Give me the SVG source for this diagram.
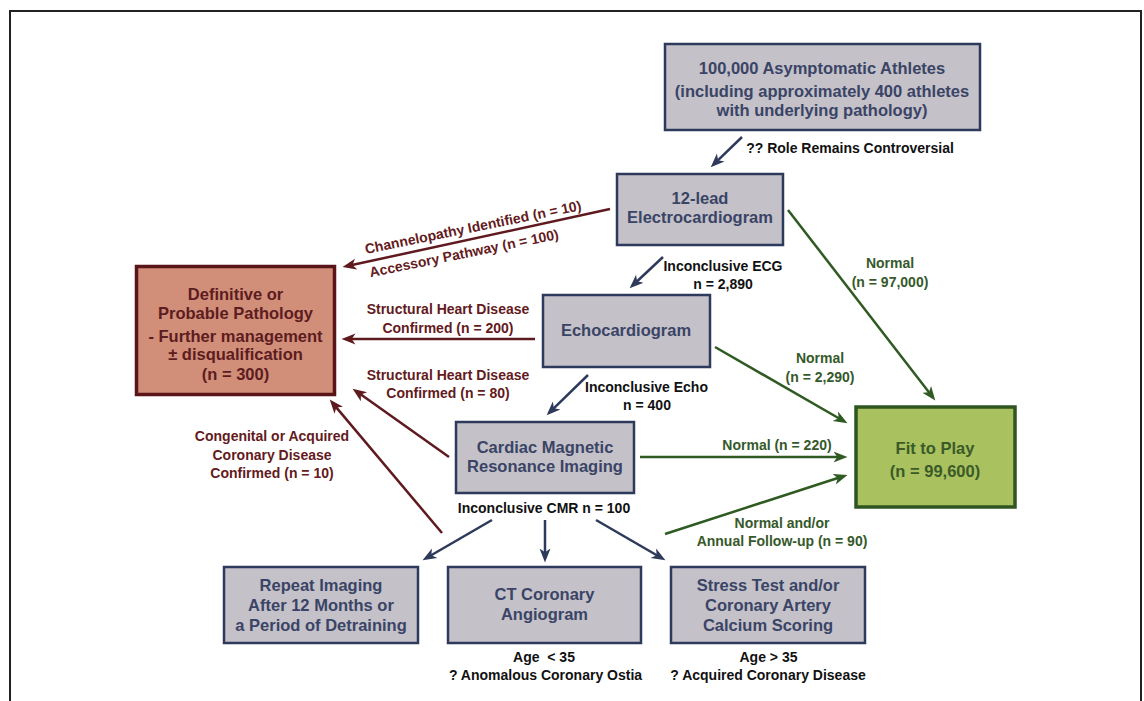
<svg xmlns="http://www.w3.org/2000/svg" width="1144" height="701" viewBox="0 0 1144 701">
<defs>
<style>
text{font-family:"Liberation Sans",Arial,Helvetica,sans-serif;font-weight:bold;text-anchor:middle}
.box{fill:#c4c1c8;stroke:#2e3a5c;stroke-width:2.5}
.bt{font-size:16.5px;fill:#3a4466}
.lbl{font-size:14px;fill:#111}
.rl{font-size:14px;fill:#631a20}
.gl{font-size:14px;fill:#35592a}
.n{stroke:#2e3a5c;stroke-width:2.5;fill:none;marker-end:url(#mn)}
.r{stroke:#5e1a1e;stroke-width:2.5;fill:none;marker-end:url(#mr)}
.g{stroke:#2f5a22;stroke-width:2.5;fill:none;marker-end:url(#mg)}
</style>
<marker id="mn" markerUnits="userSpaceOnUse" markerWidth="15" markerHeight="13" viewBox="0 0 15 13" refX="5.5" refY="6.5" orient="auto"><path d="M0,1 L14,6.5 L0,12 L3.8,6.5 z" fill="#2e3a5c"/></marker>
<marker id="mr" markerUnits="userSpaceOnUse" markerWidth="15" markerHeight="13" viewBox="0 0 15 13" refX="5.5" refY="6.5" orient="auto"><path d="M0,1 L14,6.5 L0,12 L3.8,6.5 z" fill="#5e1a1e"/></marker>
<marker id="mg" markerUnits="userSpaceOnUse" markerWidth="15" markerHeight="13" viewBox="0 0 15 13" refX="5.5" refY="6.5" orient="auto"><path d="M0,1 L14,6.5 L0,12 L3.8,6.5 z" fill="#2f5a22"/></marker>
</defs>
<rect width="1144" height="701" fill="#ffffff"/>
<path d="M10,705 L10,11 L1141,11 L1141,705" fill="none" stroke="#222" stroke-width="2"/>

<g id="connectors">
<line class="n" x1="742" y1="137" x2="716.8" y2="161.4"/>
<line class="r" x1="610" y1="209" x2="350.8" y2="265.3"/>
<line class="n" x1="663" y1="257" x2="635.8" y2="282.5"/>
<line class="g" x1="788" y1="210" x2="930.1" y2="393.7"/>
<line class="r" x1="535" y1="339" x2="350" y2="339"/>
<line class="n" x1="588" y1="375" x2="552.7" y2="409.4"/>
<line class="g" x1="715" y1="347" x2="840.1" y2="419"/>
<line class="r" x1="449" y1="457" x2="359.5" y2="393.6"/>
<line class="g" x1="640" y1="457" x2="839" y2="457"/>
<line class="r" x1="442" y1="533" x2="335.2" y2="406.1"/>
<line class="n" x1="492" y1="520" x2="429.9" y2="556"/>
<line class="n" x1="545" y1="520" x2="545" y2="554"/>
<line class="n" x1="596" y1="520" x2="658.1" y2="556"/>
<line class="g" x1="665" y1="534" x2="839.4" y2="477.5"/>

<text class="lbl" x="850" y="153">?? Role Remains Controversial</text>
<text class="rl" x="474" y="232" transform="rotate(-11.5 474 232)">Channelopathy Identified (n = 10)</text>
<text class="rl" x="465" y="258" transform="rotate(-11.5 465 258)">Accessory Pathway (n = 100)</text>
<text class="lbl" x="723" y="271">Inconclusive ECG</text>
<text class="lbl" x="723" y="289">n = 2,890</text>
<text class="gl" x="890" y="268">Normal</text>
<text class="gl" x="890" y="287">(n = 97,000)</text>
<text class="rl" x="448" y="314">Structural Heart Disease</text>
<text class="rl" x="448" y="333">Confirmed (n = 200)</text>
<text class="gl" x="820" y="363">Normal</text>
<text class="gl" x="820" y="382">(n = 2,290)</text>
<text class="rl" x="448" y="380">Structural Heart Disease</text>
<text class="rl" x="448" y="398">Confirmed (n = 80)</text>
<text class="lbl" x="646.5" y="392">Inconclusive Echo</text>
<text class="lbl" x="647" y="410">n = 400</text>
<text class="rl" x="272" y="441">Congenital or Acquired</text>
<text class="rl" x="272" y="460">Coronary Disease</text>
<text class="rl" x="272" y="478">Confirmed (n = 10)</text>
<text class="gl" x="777" y="450">Normal (n = 220)</text>
<text class="lbl" x="544" y="513">Inconclusive CMR n = 100</text>
<text class="gl" x="782" y="528">Normal and/or</text>
<text class="gl" x="782" y="546">Annual Follow-up (n = 90)</text>
</g>

<g id="athletes">
<rect class="box" x="665" y="44" width="315" height="86"/>
<text class="bt" x="822" y="74">100,000 Asymptomatic Athletes</text>
<text class="bt" x="822" y="97">(including approximately 400 athletes</text>
<text class="bt" x="822" y="116">with underlying pathology)</text>
</g>

<g id="ecg">
<rect class="box" x="617" y="174" width="166" height="71"/>
<text class="bt" x="700" y="204">12-lead</text>
<text class="bt" x="700" y="223">Electrocardiogram</text>
</g>

<g id="pathology">
<rect x="136.5" y="266.5" width="198" height="128" fill="#d18e79" stroke="#5a1518" stroke-width="3.5"/>
<text class="bt" x="235.5" y="300" style="fill:#5c1c20">Definitive or</text>
<text class="bt" x="235.5" y="319" style="fill:#5c1c20">Probable Pathology</text>
<text class="bt" x="235.5" y="342" style="fill:#5c1c20">- Further management</text>
<text class="bt" x="235.5" y="360" style="fill:#5c1c20">± disqualification</text>
<text class="bt" x="235.5" y="380" style="fill:#5c1c20">(n = 300)</text>
</g>

<g id="echo">
<rect class="box" x="543" y="295" width="167" height="72"/>
<text class="bt" x="626" y="336">Echocardiogram</text>
</g>

<g id="cmr">
<rect class="box" x="456" y="422" width="178" height="71"/>
<text class="bt" x="545" y="453">Cardiac Magnetic</text>
<text class="bt" x="545" y="472">Resonance Imaging</text>
</g>

<g id="fit">
<rect x="856" y="407" width="159" height="100" fill="#a9c15f" stroke="#2f5520" stroke-width="3.5"/>
<text class="bt" x="935" y="454" style="fill:#3a5a28">Fit to Play</text>
<text class="bt" x="935" y="477" style="fill:#3a5a28">(n = 99,600)</text>
</g>

<g id="repeat">
<rect class="box" x="224" y="567" width="194" height="76"/>
<text class="bt" x="321" y="591">Repeat Imaging</text>
<text class="bt" x="321" y="611">After 12 Months or</text>
<text class="bt" x="321" y="631">a Period of Detraining</text>
</g>

<g id="ct">
<rect class="box" x="448" y="567" width="193" height="76"/>
<text class="bt" x="544.5" y="600">CT Coronary</text>
<text class="bt" x="544.5" y="620">Angiogram</text>
<text class="lbl" x="544" y="662" xml:space="preserve">Age  &lt; 35</text>
<text class="lbl" x="545.5" y="680">? Anomalous Coronary Ostia</text>
</g>

<g id="stress">
<rect class="box" x="671" y="567" width="194" height="76"/>
<text class="bt" x="768" y="591">Stress Test and/or</text>
<text class="bt" x="768" y="611">Coronary Artery</text>
<text class="bt" x="768" y="631">Calcium Scoring</text>
<text class="lbl" x="768.5" y="662">Age &gt; 35</text>
<text class="lbl" x="768" y="680">? Acquired Coronary Disease</text>
</g>
</svg>
